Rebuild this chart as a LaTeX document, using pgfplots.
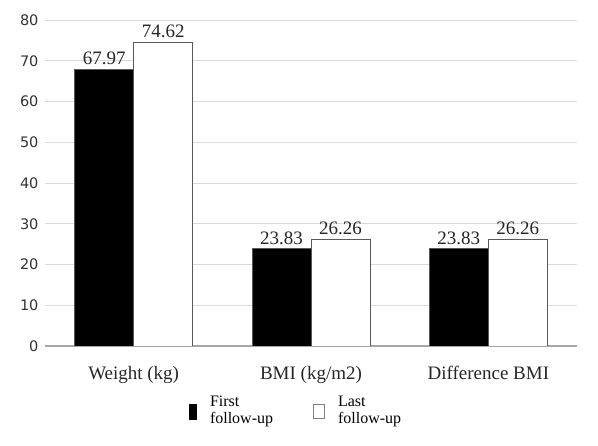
\documentclass[border=0pt]{standalone}
\usepackage{pgfplots}
\pgfplotsset{compat=1.18}
\usepackage{fontspec}
\setmainfont{Liberation Serif}
\newfontfamily\ticksans{DejaVu Sans}
\definecolor{gridgray}{HTML}{D9D9D9}
\definecolor{axisgray}{HTML}{A6A6A6}
\definecolor{ticktext}{HTML}{333333}
\definecolor{edgegray}{HTML}{595959}
\definecolor{labeltext}{HTML}{262626}

\begin{document}
\begin{tikzpicture}
\useasboundingbox (0pt,0pt) rectangle (598pt,446pt);
\begin{axis}[
  at={(45pt,100pt)}, anchor=south west,
  scale only axis, width=532pt, height=326pt,
  ybar=0pt, bar width=59pt,
  xmin=-0.5, xmax=2.5, ymin=0, ymax=80,
  xtick={0,1,2},
  xticklabels={Weight (kg),BMI (kg/m2),Difference BMI},
  ytick={0,10,...,80},
  major tick length=0pt,
  axis x line*=bottom, axis y line*=left,
  x axis line style={-, draw=axisgray, line width=1.2pt},
  y axis line style={-, draw=none},
  ymajorgrids, grid style={gridgray, line width=0.9pt},
  /pgf/number format/assume math mode=true,
  yticklabel style={font=\ticksans\fontsize{14.5}{16}\selectfont, text=ticktext, anchor=east, xshift=-3pt},
  xticklabel style={font=\fontsize{19}{21}\selectfont, text=labeltext, anchor=base, yshift=-34pt},
  nodes near coords,
  nodes near coords style={font=\fontsize{19}{21}\selectfont, text=labeltext,
    /pgf/number format/fixed, /pgf/number format/precision=2,
    /pgf/number format/fixed zerofill},
  every node near coord/.append style={anchor=south, inner sep=0pt, yshift=4pt},
  legend columns=2,
  legend style={draw=none, fill=none, inner sep=0pt,
    at={(0.2707,-0.141)}, anchor=north west,
    font=\fontsize{16}{17}\selectfont,
    /tikz/every odd column/.style={column sep=11pt},
    /tikz/every even column/.style={column sep=38pt}},
  legend cell align=left,
]
\addplot[fill=black, draw=edgegray, line width=0.8pt,
  legend image code/.code={\fill[black] (0pt,-13.5pt) rectangle (7pt,1.5pt);}]
  coordinates {(0,67.97) (1,23.83) (2,23.83)};
\addlegendentry{\begin{tabular}[c]{@{}l@{}}First\\follow-up\end{tabular}}
\addplot[fill=white, draw=edgegray, line width=0.8pt,
  legend image code/.code={\draw[draw=gray, fill=white, line width=1pt] (0pt,-13pt) rectangle (11pt,1pt);}]
  coordinates {(0,74.62) (1,26.26) (2,26.26)};
\addlegendentry{\begin{tabular}[c]{@{}l@{}}Last\\follow-up\end{tabular}}
\end{axis}
\end{tikzpicture}
\end{document}
